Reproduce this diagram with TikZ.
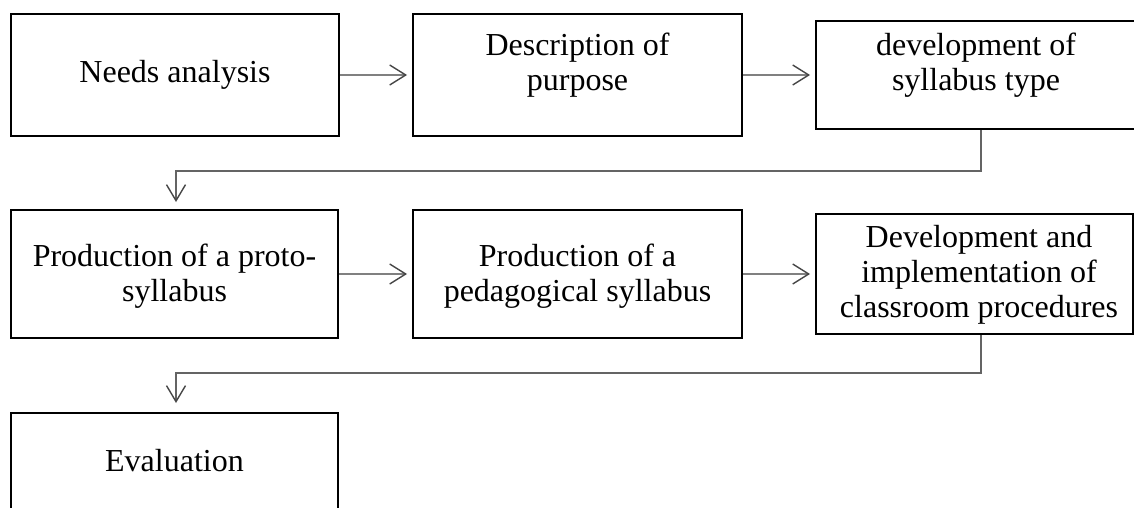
\documentclass[tikz,border=0pt]{standalone}
\usepackage{fontspec}
\setmainfont{Liberation Serif}
\usetikzlibrary{arrows.meta}
\definecolor{flowgray}{RGB}{128,128,128}
\definecolor{headgray}{RGB}{70,70,70}
\definecolor{conngray}{RGB}{100,100,100}
\begin{document}
\begin{tikzpicture}[x=1pt,y=-1pt,
  box/.style={draw=black, line width=2pt, rectangle, inner sep=0pt},
  lbl/.style={font=\fontsize{32}{35}\selectfont, align=center, inner sep=0pt},
  flow/.style={draw=flowgray, line width=1.8pt,
    -{Straight Barb[length=16pt,width=20pt,line width=1.4pt,color=headgray]}, shorten >=5pt},
  conn/.style={draw=conngray, line width=1.3pt,
    -{Straight Barb[length=16pt,width=19pt,line width=1.4pt,color=headgray]}}]
\useasboundingbox (0,0) rectangle (1134,508);
\clip (0,0) rectangle (1134,508);
\fill[white] (0,0) rectangle (1134,508);

% row 1
\node[box, minimum width=328pt, minimum height=122pt] (b1) at (175,75) {};
\node[box, minimum width=329pt, minimum height=122pt] (b2) at (577.5,75) {};
\node[box, minimum width=330pt, minimum height=108pt] (b3) at (981,75) {};
\node[lbl] (t1) at (175,75) {Needs analysis};
\node[lbl] (t2) at (577.5,65) {Description of\\purpose};
\node[lbl] (t3) at (976,65) {development of\\syllabus type};

% row 2
\node[box, minimum width=327pt, minimum height=128pt] (b4) at (174.5,274) {};
\node[box, minimum width=329pt, minimum height=128pt] (b5) at (577.5,274) {};
\node[box, minimum width=317pt, minimum height=120pt] (b6) at (974.5,274) {};
\node[lbl] (t4) at (174.5,276) {Production of a proto-\\syllabus};
\node[lbl] (t5) at (577.5,276) {Production of a\\pedagogical syllabus};
\node[lbl] (t6) at (979,275) {Development and\\implementation of\\classroom procedures};

% row 3
\node[box, minimum width=327pt, minimum height=130pt] (b7) at (174.5,478) {};
\node[lbl] (t7) at (174.5,461) {Evaluation};

% horizontal arrows
\draw[flow] (b1.east) -- (b2.west);
\draw[flow] (b2.east) -- (b3.west);
\draw[flow] (b4.east) -- (b5.west);
\draw[flow] (b5.east) -- (b6.west);

% elbow connectors
\coordinate (k1) at (981,171);
\coordinate (k2) at (176,171);
\draw[conn, shorten >=7pt] (b3.south -| k1) -- (k1) -- (k2) -- (k2 |- b4.north);
\coordinate (k3) at (981,373);
\coordinate (k4) at (176,373);
\draw[conn, shorten >=9pt] (b6.south -| k3) -- (k3) -- (k4) -- (k4 |- b7.north);
\end{tikzpicture}
\end{document}
